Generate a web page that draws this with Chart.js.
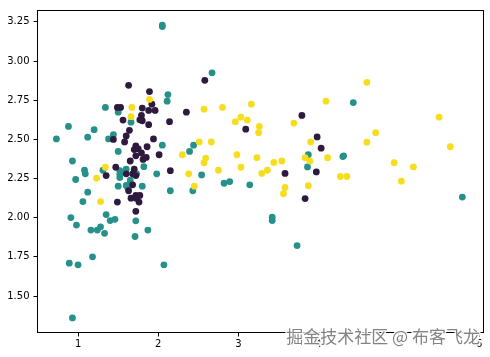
<!DOCTYPE html>
<html>
<head>
<meta charset="utf-8">
<script src="https://cdn.jsdelivr.net/npm/chart.js@4/dist/chart.umd.min.js"></script>
<style>
  html, body { margin: 0; padding: 0; background: #fff; }
  canvas { display: block; }
</style>
</head>
<body>
<canvas id="scatter_canvas" width="490" height="357"></canvas>
<script>
// values, one pair of arrays per class
const dark_x = [2.58, 1.63, 1.89, 1.92, 1.49, 1.53, 1.80, 1.88, 1.96, 2.35, 1.79, 1.56, 1.80, 1.77,
  2.14, 1.88, 3.09, 1.64, 1.60, 1.94, 1.44, 1.58, 1.72, 1.86, 1.70, 1.75, 1.79, 1.72, 1.85, 1.81,
  2.01, 1.65, 1.47, 2.15, 1.70, 1.35, 1.60, 1.68, 1.72, 1.68, 1.63, 1.72, 1.77, 1.66, 1.76, 1.73,
  1.49, 1.72, 3.79, 3.98, 4.03, 3.58, 3.97, 3.83];
const dark_y = [2.877, 2.845, 2.805, 2.725, 2.704, 2.704, 2.70, 2.685, 2.685, 2.674, 2.653, 2.623, 2.619, 2.625,
  2.613, 2.594, 2.565, 2.558, 2.522, 2.503, 2.50, 2.484, 2.459, 2.453, 2.435, 2.44, 2.413, 2.395, 2.385, 2.372,
  2.402, 2.362, 2.322, 2.30, 2.31, 2.269, 2.28, 2.28, 2.269, 2.21, 2.172, 2.142, 2.142, 2.125, 2.10, 2.125,
  2.10, 2.041, 2.653, 2.516, 2.444, 2.283, 2.292, 2.122];

const teal_x = [2.05, 2.05, 2.67, 2.12, 2.11, 1.34, 1.50, 1.66, 0.88, 1.20, 1.44, 1.12, 0.73, 1.38,
  2.05, 2.44, 2.39, 1.50, 0.93, 1.82, 1.60, 1.52, 1.08, 1.31, 1.09, 1.52, 1.52, 1.73, 1.98, 2.54,
  0.97, 1.50, 1.60, 1.62, 1.65, 1.80, 2.15, 2.43, 2.82, 2.89, 3.14, 1.12, 1.72, 1.06, 1.35, 0.91,
  1.40, 1.46, 1.72, 0.98, 1.16, 1.24, 1.28, 1.33, 1.87, 1.71, 0.89, 1.00, 1.18, 2.07, 0.93, 4.43,
  3.87, 3.86, 4.30, 4.31, 5.79, 3.42, 3.42, 3.73, 1.65];
const teal_y = [3.23, 3.22, 2.925, 2.786, 2.744, 2.704, 2.674, 2.61, 2.583, 2.562, 2.53, 2.514, 2.503, 2.503,
  2.463, 2.463, 2.423, 2.423, 2.362, 2.326, 2.31, 2.30, 2.303, 2.303, 2.28, 2.277, 2.256, 2.28, 2.28, 2.273,
  2.244, 2.201, 2.206, 2.19, 2.22, 2.201, 2.172, 2.172, 2.22, 2.231, 2.21, 2.163, 2.125, 2.103, 2.02, 2.001,
  1.982, 1.99, 1.98, 1.953, 1.921, 1.921, 1.942, 1.90, 1.921, 1.88, 1.71, 1.699, 1.75, 1.699, 1.36, 2.735,
  2.402, 2.324, 2.39, 2.395, 2.132, 2.003, 1.982, 1.822, 2.24];

const yellow_x = [1.89, 1.67, 2.57, 2.80, 1.66, 2.96, 3.03, 3.11, 2.51, 2.66, 2.30, 2.98, 2.59, 2.57,
  1.34, 3.03, 2.75, 2.38, 1.23, 2.45, 1.28, 4.60, 4.09, 3.16, 3.26, 3.25, 3.69, 5.50, 4.71, 4.60,
  3.90, 5.64, 3.83, 3.89, 4.11, 3.23, 3.44, 3.54, 4.94, 5.18, 3.29, 3.36, 4.27, 4.35, 5.03, 3.58,
  3.56, 3.87];
const yellow_y = [2.755, 2.704, 2.693, 2.704, 2.645, 2.613, 2.642, 2.623, 2.484, 2.484, 2.402, 2.402, 2.381, 2.351,
  2.322, 2.322, 2.303, 2.28, 2.252, 2.201, 2.103, 2.864, 2.744, 2.725, 2.583, 2.543, 2.604, 2.642, 2.543, 2.482,
  2.484, 2.453, 2.383, 2.362, 2.383, 2.383, 2.353, 2.362, 2.351, 2.324, 2.283, 2.303, 2.263, 2.263, 2.233, 2.193,
  2.153, 2.204];

const x_ticks = [1, 2, 3, 4, 5, 6];
const y_ticks = [1.5, 1.75, 2.0, 2.25, 2.5, 2.75, 3.0, 3.25];

function to_points(xs, ys) {
  return xs.map((x, i) => ({ x: x, y: ys[i] }));
}

function point_set(xs, ys, color) {
  return {
    data: to_points(xs, ys),
    backgroundColor: color,
    borderWidth: 0,
    pointRadius: 3.4,
    pointHoverRadius: 3.4
  };
}

// frame on all four sides, like the matplotlib axes box
const frame_plugin = {
  id: 'frame',
  afterDraw(chart) {
    const a = chart.chartArea;
    const ctx = chart.ctx;
    ctx.save();
    ctx.strokeStyle = '#000';
    ctx.lineWidth = 1;
    ctx.strokeRect(Math.round(a.left) + 0.5, Math.round(a.top) + 0.5,
      Math.round(a.right - a.left) - 1, Math.round(a.bottom - a.top) - 1);
    ctx.restore();
  }
};

const watermark_plugin = {
  id: 'watermark',
  afterDraw(chart) {
    const ctx = chart.ctx;
    ctx.save();
    ctx.font = '17px "Noto Sans CJK SC"';
    ctx.textAlign = 'right';
    ctx.textBaseline = 'middle';
    ctx.lineWidth = 3;
    ctx.strokeStyle = 'rgba(255,255,255,0.9)';
    ctx.strokeText('掘金技术社区 @ 布客飞龙', 480, 337);
    ctx.fillStyle = 'rgba(110,110,110,0.85)';
    ctx.fillText('掘金技术社区 @ 布客飞龙', 480, 337);
    ctx.restore();
  }
};

const tick_font = { family: '"DejaVu Sans"', size: 10 };

new Chart(document.getElementById('scatter_canvas'), {
  type: 'scatter',
  data: {
    datasets: [
      point_set(yellow_x, yellow_y, '#f6de1f'),
      point_set(dark_x, dark_y, '#2d1a3e'),
      point_set(teal_x, teal_y, '#26918a')
    ]
  },
  options: {
    responsive: false,
    animation: false,
    layout: { padding: { top: 7, right: 6, left: 0, bottom: 0 } },
    plugins: { legend: { display: false }, tooltip: { enabled: false } },
    scales: {
      x: {
        type: 'linear',
        min: 0.488,
        max: 6.06,
        afterBuildTicks: axis => { axis.ticks = x_ticks.map(v => ({ value: v })); },
        afterFit: axis => { axis.height = 24; },
        grid: { display: true, drawOnChartArea: false, drawTicks: true, tickLength: 3.5, color: '#000' },
        border: { display: false },
        ticks: { color: '#000', font: tick_font, padding: 2, maxRotation: 0,
          callback: v => String(v) }
      },
      y: {
        type: 'linear',
        min: 1.264,
        max: 3.326,
        afterBuildTicks: axis => { axis.ticks = y_ticks.map(v => ({ value: v })); },
        afterFit: axis => { axis.width = 37; },
        grid: { display: true, drawOnChartArea: false, drawTicks: true, tickLength: 3.5, color: '#000' },
        border: { display: false },
        ticks: { color: '#000', font: tick_font, padding: 4,
          callback: v => v.toFixed(2) }
      }
    }
  },
  plugins: [frame_plugin, watermark_plugin]
});
</script>
</body>
</html>
